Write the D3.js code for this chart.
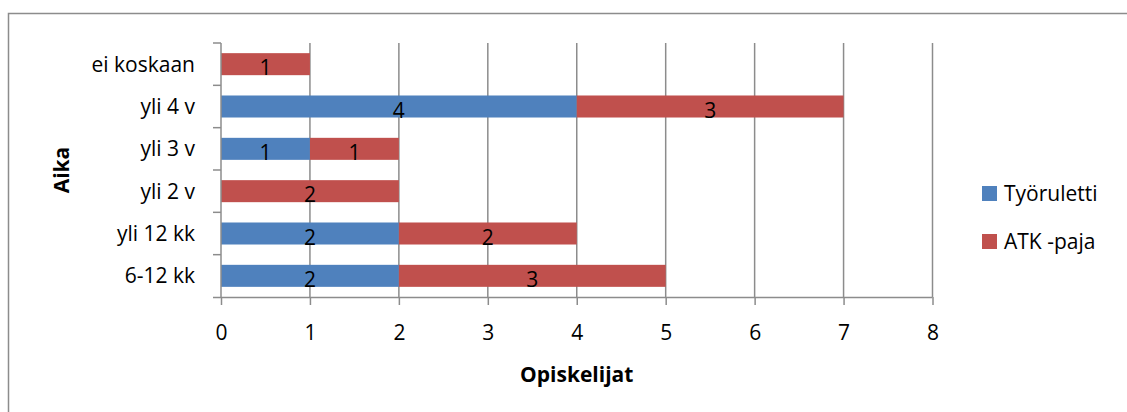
<!DOCTYPE html>
<html lang="fi">
<head>
<meta charset="UTF-8">
<script src="https://cdn.jsdelivr.net/npm/d3@7"></script>
<style>
  body { margin: 0; background: #fff; }
  text { font-family: "Open Sans", "Noto Sans", sans-serif; fill: #000; }
</style>
</head>
<body>
<div id="chart"></div>
<script>
// data (top row first)
var categories = ["ei koskaan", "yli 4 v", "yli 3 v", "yli 2 v", "yli 12 kk", "6-12 kk"];
var tyoruletti = [0, 4, 1, 0, 2, 2];
var atkPaja    = [1, 3, 1, 2, 2, 3];
var seriesNames = ["Työruletti", "ATK -paja"];
var seriesColors = ["#4F81BD", "#C0504D"];
var xTicks = [0, 1, 2, 3, 4, 5, 6, 7, 8];

var W = 1127, H = 412;
var margin = {top: 43, right: 195, bottom: 115, left: 221};
var fs = 21;

var svg = d3.select("#chart").append("svg")
    .attr("width", W).attr("height", H);

// outer chart frame (right/bottom edges fall outside the picture)
svg.append("rect")
    .attr("x", 8.5).attr("y", 13.5)
    .attr("width", 1300).attr("height", 600)
    .attr("fill", "none").attr("stroke", "#8c8c8c").attr("stroke-width", 1.5);

var x = d3.scaleLinear()
    .domain([0, 8])
    .range([margin.left, W - margin.right + 0.5]);

var y = d3.scaleBand()
    .domain(categories)
    .range([margin.top, H - margin.bottom])
    .paddingInner(0.48).paddingOuter(0.24);

var yTicks = d3.scaleBand().domain(categories).range([margin.top, H - margin.bottom]);

// vertical gridlines
svg.append("g")
    .selectAll("line")
    .data(xTicks.slice(1))
    .join("line")
    .attr("x1", d => x(d)).attr("x2", d => x(d))
    .attr("y1", margin.top).attr("y2", H - margin.bottom)
    .attr("stroke", "#8c8c8c").attr("stroke-width", 1.5);

// stacked bars
var rows = categories.map((c, i) => ({cat: c, t: tyoruletti[i], a: atkPaja[i]}));
var series = d3.stack().keys(["t", "a"])(rows);

var barG = svg.append("g");
series.forEach((s, si) => {
    var g = barG.append("g");
    g.selectAll("rect")
        .data(s.filter(d => d[1] > d[0]))
        .join("rect")
        .attr("x", d => x(d[0]))
        .attr("y", d => y(d.data.cat))
        .attr("width", d => x(d[1]) - x(d[0]))
        .attr("height", y.bandwidth())
        .attr("fill", seriesColors[si]);
    g.selectAll("text")
        .data(s.filter(d => d[1] > d[0]))
        .join("text")
        .attr("x", d => (x(d[0]) + x(d[1])) / 2)
        .attr("y", d => y(d.data.cat) + y.bandwidth() / 2 + 11)
        .attr("text-anchor", "middle")
        .attr("font-size", fs)
        .text(d => d[1] - d[0]);
});

// x axis
svg.append("g")
    .attr("transform", `translate(0,${H - margin.bottom})`)
    .call(d3.axisBottom(x).tickValues(xTicks).tickSize(8).tickPadding(20).tickFormat(d3.format("d")))
    .call(g => g.select(".domain").attr("stroke", "#8c8c8c").attr("stroke-width", 1.5).attr("d", `M${x(0) - 8},0.5H${x(8)}`))
    .call(g => g.selectAll(".tick line").attr("stroke", "#8c8c8c").attr("stroke-width", 1.5))
    .call(g => g.selectAll(".tick text").attr("font-size", fs).attr("font-family", null));

// y axis with ticks between categories
svg.append("g")
    .attr("transform", `translate(${margin.left},0)`)
    .call(d3.axisLeft(y).tickSize(0).tickPadding(26))
    .call(g => g.select(".domain").attr("stroke", "#8c8c8c").attr("stroke-width", 1.5).attr("d", `M0,${margin.top}V${H - margin.bottom}`))
    .call(g => g.selectAll(".tick text").attr("font-size", fs).attr("font-family", null).attr("dy", "0.36em"))
    .call(g => g.selectAll(".sep").data(categories).join("line")
        .attr("class", "sep")
        .attr("x1", -8).attr("x2", 0)
        .attr("y1", d => yTicks(d)).attr("y2", d => yTicks(d))
        .attr("stroke", "#8c8c8c").attr("stroke-width", 1.5));

// axis titles
svg.append("text")
    .attr("x", x(4)).attr("y", 382)
    .attr("text-anchor", "middle")
    .attr("font-size", fs).attr("font-weight", "bold")
    .text("Opiskelijat");

svg.append("text")
    .attr("transform", `translate(69,170) rotate(-90)`)
    .attr("text-anchor", "middle")
    .attr("font-size", fs).attr("font-weight", "bold")
    .text("Aika");

// legend
var legend = svg.append("g").attr("transform", "translate(982,186)");
seriesNames.forEach((n, i) => {
    var row = legend.append("g").attr("transform", `translate(0,${i * 48})`);
    row.append("rect").attr("width", 15).attr("height", 15).attr("fill", seriesColors[i]);
    row.append("text").attr("x", 22).attr("y", 15).attr("font-size", fs).text(n);
});
</script>
</body>
</html>
